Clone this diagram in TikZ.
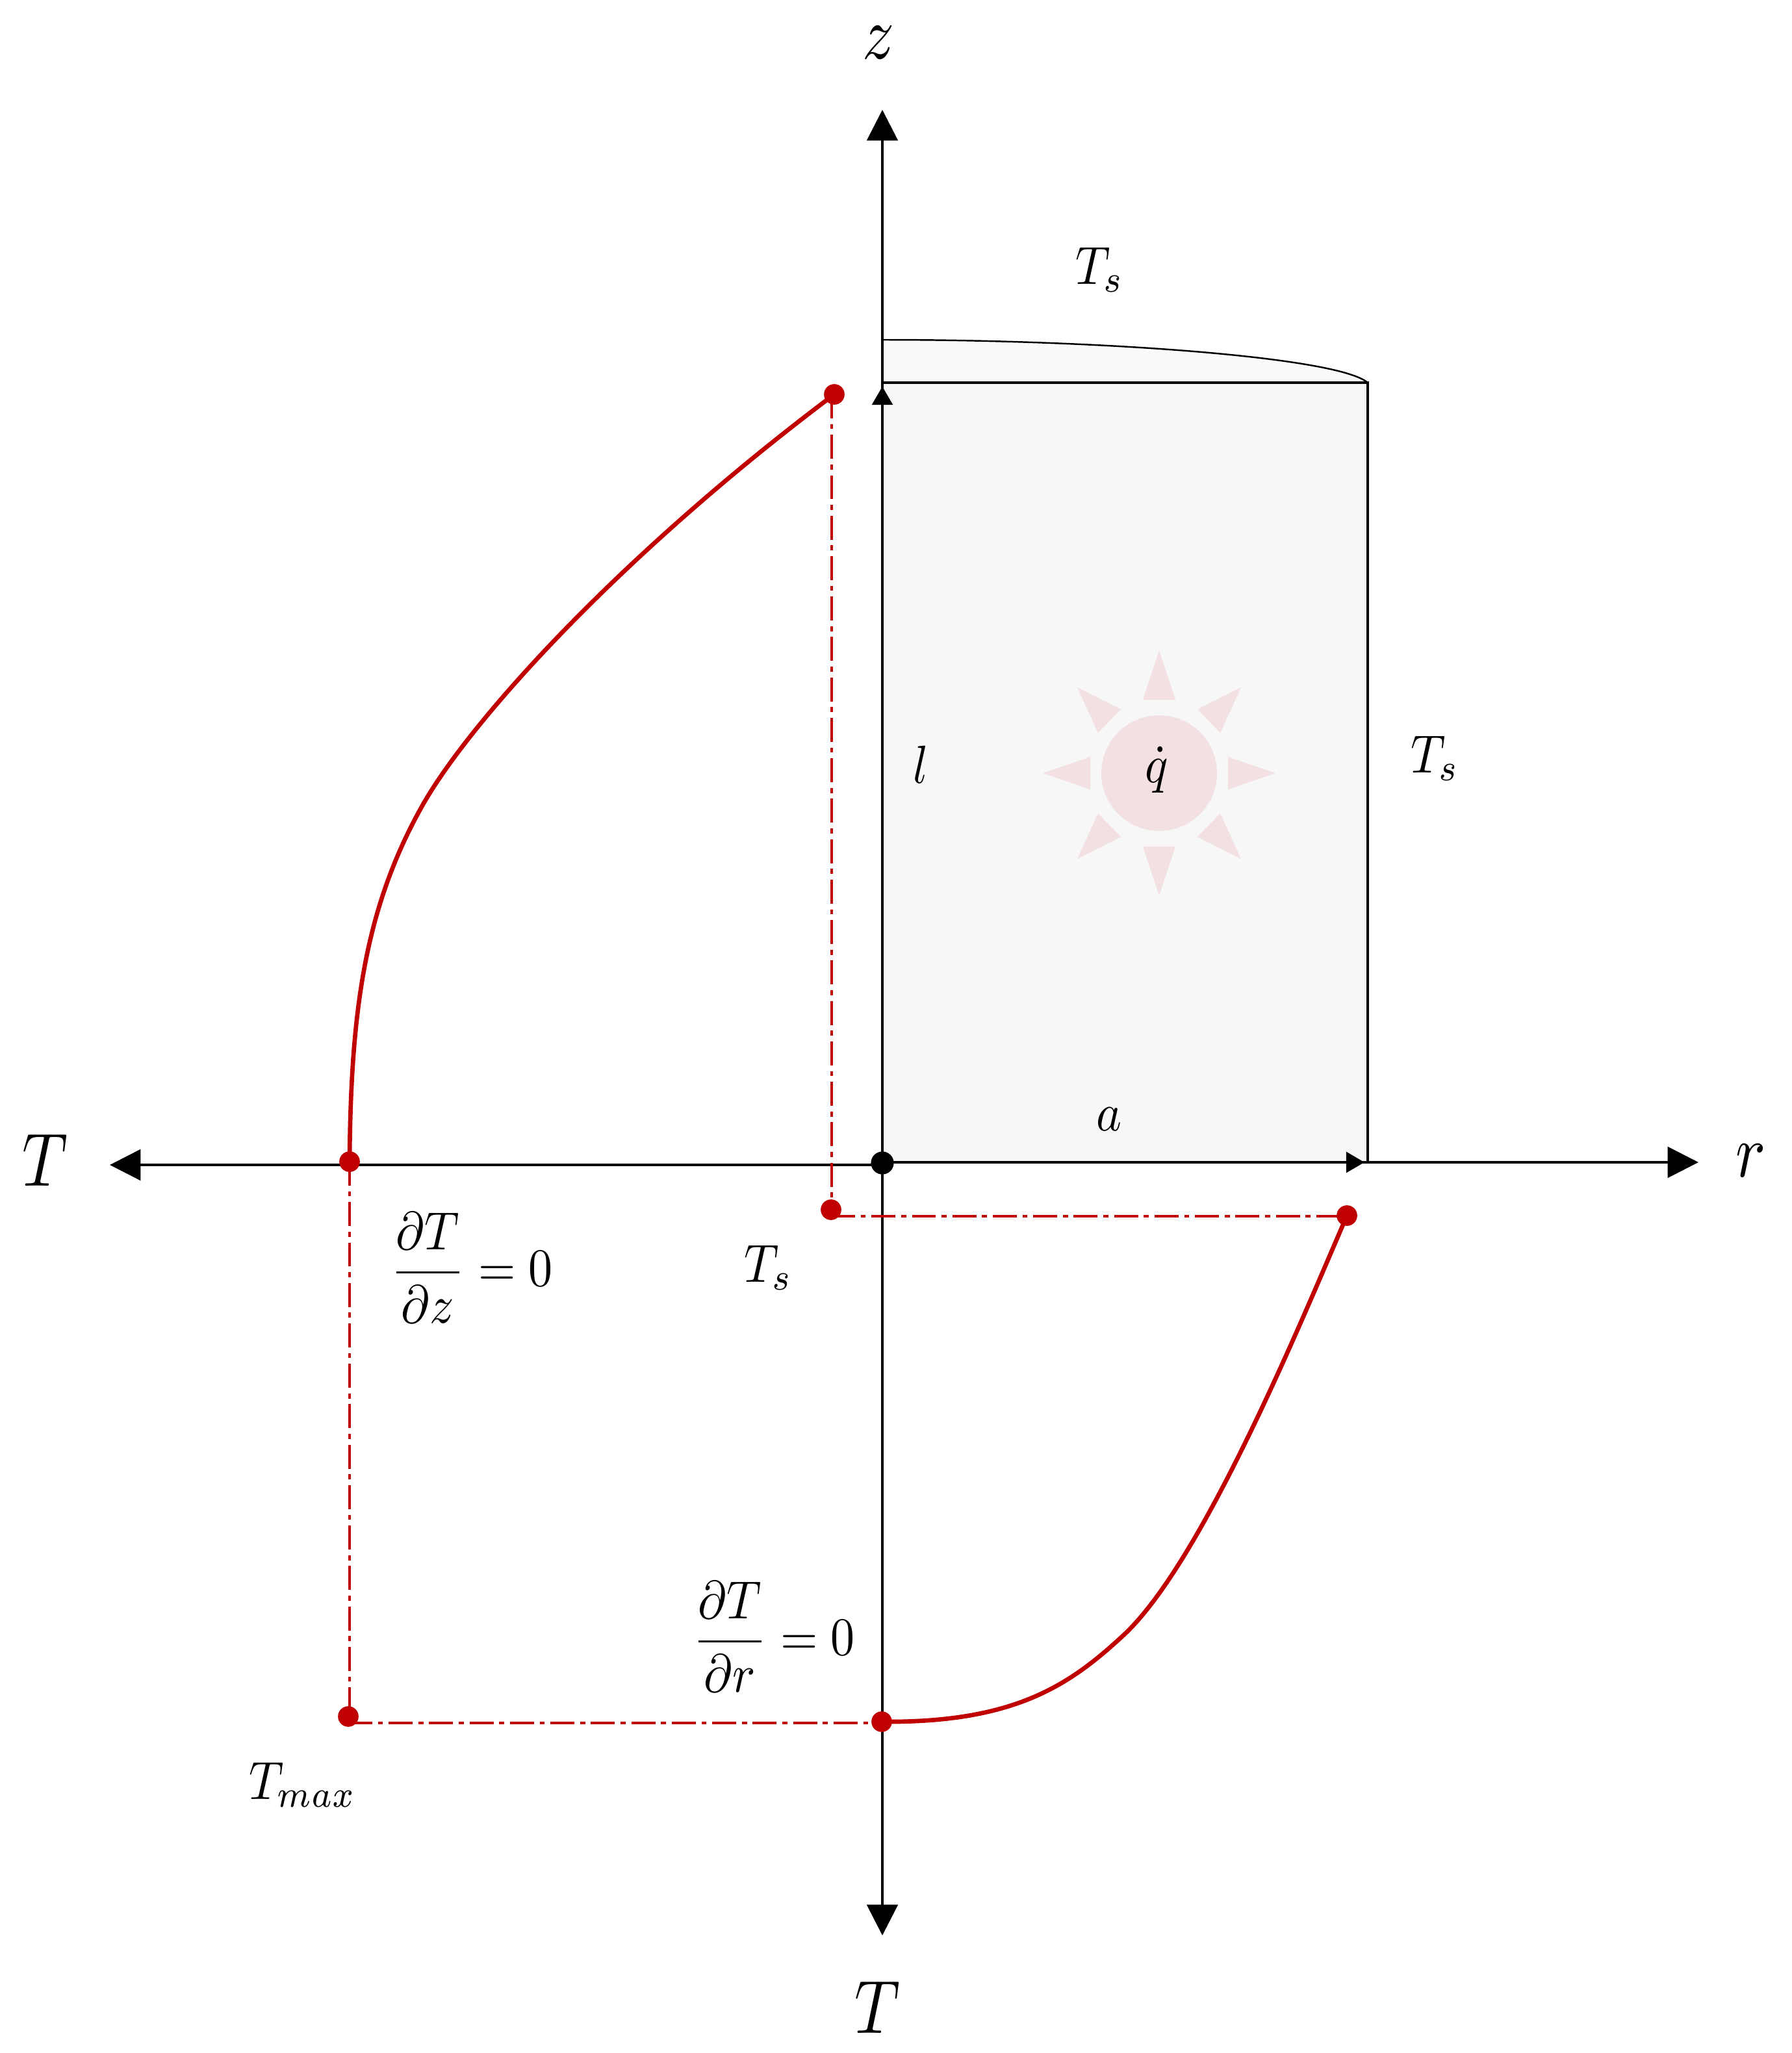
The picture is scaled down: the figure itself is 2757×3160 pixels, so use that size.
\documentclass[tikz,border=0pt]{standalone}
\usepackage{graphicx}
\usepackage{amsmath}
\usetikzlibrary{arrows.meta}
\definecolor{redc}{HTML}{C00000}
\definecolor{boxfill}{HTML}{F7F7F7}
\definecolor{capfill}{HTML}{FAFAFA}
\definecolor{sunfill}{HTML}{F3E0E2}
\newcommand{\bigmark}[1]{\scalebox{2.75}[3.3]{#1}}
\newcommand{\midmark}[1]{\scalebox{2.1}[2.35]{#1}}
\tikzset{
  axisline/.style={line width=1.15pt,black},
  thinline/.style={line width=0.9pt,black},
  bigtip/.style={-{Triangle[length=13.5pt,width=13.5pt]}},
  smalltip/.style={-{Triangle[length=8pt,width=9pt]}},
  reddot/.style={circle,fill=redc,inner sep=0pt,minimum size=9pt},
  blackdot/.style={circle,fill=black,inner sep=0pt,minimum size=10pt},
  redcurve/.style={line width=1.9pt,redc,line cap=round},
  reddash/.style={line width=1.1pt,redc,dash pattern=on 10.5pt off 2.5pt on 2.2pt off 2.5pt},
  textmark/.style={inner sep=0pt}
}
\begin{document}
\begin{tikzpicture}[x=0.01cm,y=-0.01cm]
\useasboundingbox (0,0) rectangle (2757,3160);
% body
\path[fill=capfill] (1358,523) .. controls (1700,523) and (2060,550) .. (2105,589) -- (1358,589) -- cycle;
\draw[thinline,line width=0.7pt] (1358,523) .. controls (1700,523) and (2060,550) .. (2105,589);
\fill[boxfill] (1358,589) rectangle (2105,1790);
\coordinate (ctl) at (1358,589);
\coordinate (ctr) at (2105,589);
\coordinate (cbr) at (2105,1790);
\draw[thinline] (ctl) -- (ctr) -- (cbr);
% sun
\fill[sunfill] (1784,1190) circle[radius=89];
\foreach \s in {1,-1}{
  \fill[sunfill,shift={(1784,1190)},yscale=\s] (-25,-113) -- (0,-188) -- (25,-113) -- cycle;
  \fill[sunfill,shift={(1784,1190)},xscale=\s] (-106,-25) -- (-179,0) -- (-106,25) -- cycle;
  \fill[sunfill,shift={(1784,1190)},xscale=\s] (-59,-98) -- (-126,-132) -- (-94,-62) -- cycle;
  \fill[sunfill,shift={(1784,1190)},xscale=\s,yscale=-1] (-59,-98) -- (-126,-132) -- (-94,-62) -- cycle;
}
% axes
\coordinate (ztop) at (1358,169);
\coordinate (tbot) at (1358,2979);
\coordinate (tleft) at (169,1793);
\coordinate (oleft) at (1358,1793);
\coordinate (rright) at (2614,1789);
\coordinate (oright) at (1358,1789);
\coordinate (rtip) at (2100,1789);
\coordinate (ztip) at (1358,595);
\node[blackdot] (orig) at (1358,1790) {};
\draw[axisline,bigtip] (orig.center) -- (ztop);
\draw[axisline,bigtip] (orig.center) -- (tbot);
\draw[axisline,bigtip] (oleft) -- (tleft);
\draw[axisline,bigtip] (oright) -- (rright);
\draw[axisline,smalltip] (orig.center) -- (ztip);
\draw[axisline,smalltip] (oright) -- (rtip);
% red points
\node[reddot] (ptop) at (1284,607) {};
\node[reddot] (ptsl) at (1279,1862) {};
\node[reddot] (ptsr) at (2073,1871) {};
\node[reddot] (paxl) at (538,1788) {};
\node[reddot] (pmax) at (536,2642) {};
\node[reddot] (pbot) at (1357,2650) {};
% dash-dot links
\coordinate (dv1a) at (1280,607);
\coordinate (dv1b) at (1280,1862);
\draw[reddash] (dv1a) -- (dv1b);
\coordinate (dh1a) at (1279,1872);
\coordinate (dh1b) at (2073,1872);
\draw[reddash] (dh1a) -- (dh1b);
\coordinate (dv2a) at (538,1788);
\coordinate (dv2b) at (538,2642);
\draw[reddash] (dv2a) -- (dv2b);
\coordinate (dh2a) at (536,2652);
\coordinate (dh2b) at (1357,2652);
\draw[reddash] (dh2a) -- (dh2b);
% curves
\draw[redcurve] (paxl.center) .. controls (540,1560) and (560,1400) .. (650,1240)
  .. controls (725,1107) and (960,850) .. (ptop.center);
\draw[redcurve] (ptsr.center) .. controls (2000,2040) and (1850,2405) .. (1729,2517)
  .. controls (1645,2595) and (1560,2652) .. (pbot.center);
% labels
\node[textmark] (lz) at (1352,66) {\bigmark{$z$}};
\node[textmark] (lTl) at (69,1786) {\bigmark{$T$}};
\node[textmark] (lr) at (2695,1786) {\bigmark{$r$}};
\node[textmark] (lTb) at (1350,3090) {\bigmark{$T$}};
\node[textmark] (lTs1) at (1693,415) {\midmark{$T_s$}};
\node[textmark] (lTs2) at (2209,1167) {\midmark{$T_s$}};
\node[textmark] (lTs3) at (1183,1951) {\midmark{$T_s$}};
\node[textmark] (ll) at (1417,1177) {\midmark{$l$}};
\node[textmark] (la) at (1707,1723) {\midmark{$a$}};
\node[textmark] (lq) at (1780,1185) {\midmark{$\dot q$}};
\node[textmark] (lfz) at (726,1951) {\midmark{$\dfrac{\partial T}{\partial z}=0$}};
\node[textmark] (lfr) at (1191,2519) {\midmark{$\dfrac{\partial T}{\partial r}=0$}};
\node[textmark] (lmax) at (466,2747) {\midmark{$T_{max}$}};
\end{tikzpicture}
\end{document}
